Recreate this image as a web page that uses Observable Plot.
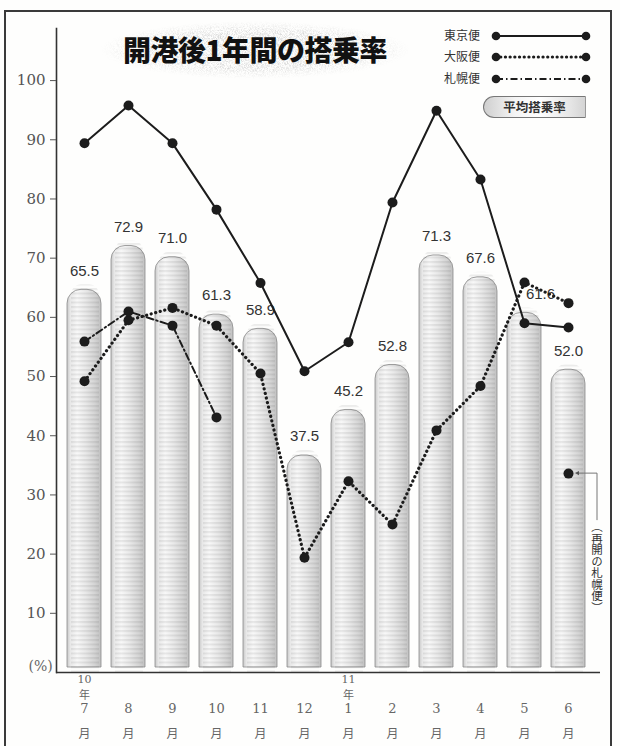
<!DOCTYPE html>
<html>
<head>
<meta charset="utf-8">
<script src="https://cdn.jsdelivr.net/npm/d3@7"></script>
<script src="https://cdn.jsdelivr.net/npm/@observablehq/plot@0.6"></script>
<style>
  html, body { margin: 0; padding: 0; background: #fff; }
  #wrap { position: relative; width: 620px; height: 746px; overflow: hidden; background: #fefefd; }
  #wrap > svg.plot { position: absolute; left: 0; top: 0; }
  .ov { position: absolute; }
  #border { left: 4px; top: 10px; width: 608px; height: 760px; border: 2px solid #3a3a3a; box-sizing: border-box; }
  #title { left: 100px; top: 20px; width: 310px; height: 60px; }
  #titleText { left: 100px; top: 20px; width: 310px; height: 60px; line-height: 58px; text-align: center;
    font-family: "Noto Sans CJK JP"; font-weight: 900; font-size: 28px; color: #111; letter-spacing: -0.5px; }
  .leg { font-family: "Noto Sans CJK JP"; font-size: 12px; color: #333; line-height: 12px; }
  #avgBox { left: 483px; top: 96px; width: 103px; height: 22px; border: 1px solid #777; border-right: 1px solid #999;
    border-radius: 11px 0 0 11px; box-sizing: border-box;
    background: linear-gradient(to right, #cfcfcf 0%, #f4f4f4 30%, #ffffff 55%, #e6e6e6 85%, #d4d4d4 100%);
    font-family: "Noto Sans CJK JP"; font-weight: 700; font-size: 12.5px; color: #333; text-align: center; line-height: 20px; }
  #note { font-family: "Noto Sans CJK JP"; font-size: 11.5px; color: #333; writing-mode: vertical-rl; line-height: 12px; }
</style>
</head>
<body>
<div id="wrap"></div>
<script>
// ---------------- data ----------------
const months = ["7", "8", "9", "10", "11", "12", "1", "2", "3", "4", "5", "6"];
const yearLabels = ["10", "", "", "", "", "", "11", "", "", "", "", ""];
const averageRate = [65.5, 72.9, 71.0, 61.3, 58.9, 37.5, 45.2, 52.8, 71.3, 67.6, 61.6, 52.0];
const tokyoRate = [89.4, 95.8, 89.4, 78.2, 65.8, 50.9, 55.8, 79.4, 94.9, 83.3, 59.0, 58.3];
const osakaRate = [49.2, 59.5, 61.6, 58.6, 50.5, 19.4, 32.3, 25.0, 40.9, 48.4, 65.9, 62.4];
const sapporoRate = [55.9, 61.0, 58.6, 43.1, null, null, null, null, null, null, null, 33.6];
const yTicks = [10, 20, 30, 40, 50, 60, 70, 80, 90, 100];
const seriesNames = ["東京便", "大阪便", "札幌便"];
const titleText = "開港後1年間の搭乗率";
const avgLabel = "平均搭乗率";
const noteText = "（再開の札幌便）";
const shiftedLabelMonth = "5";

const rows = months.map((m, i) => ({
  month: m, year: yearLabels[i], avg: averageRate[i],
  tokyo: tokyoRate[i], osaka: osakaRate[i], sapporo: sapporoRate[i]
}));

// ---------------- styles ----------------
const ink = "#1c1c1c";
const dashOsaka = "0.1,4.6";
const dashSapporo = "7,3,1.5,3";

const chart = Plot.plot({
  width: 620, height: 746,
  marginLeft: 56, marginRight: 20, marginTop: 28, marginBottom: 74,
  x: {domain: months, range: [61, 590], padding: 0, axis: null},
  y: {domain: [0, 108.8], axis: null},
  style: {background: "transparent", fontFamily: "DejaVu Serif", color: "#333", overflow: "visible"},
  marks: [
    // bars (cylinder look)
    Plot.barY(rows, {x: "month", y: "avg", inset: 5, ry1: 14, fill: "url(#cyl)", stroke: "#8a8a8a", strokeWidth: 0.8}),
    Plot.barY(rows, {x: "month", y: "avg", insetLeft: 9, insetRight: 7, ry1: 10, fill: "url(#stripes)"}),
    // value labels
    Plot.text(rows.filter(d => d.month !== shiftedLabelMonth), {x: "month", y: "avg", text: d => d.avg.toFixed(1), dy: -14,
      fontSize: 15, fontFamily: "Liberation Sans", fill: "#333"}),
    Plot.text(rows.filter(d => d.month === shiftedLabelMonth), {x: "month", y: "avg", text: d => d.avg.toFixed(1), dy: -14, dx: 16,
      fontSize: 15, fontFamily: "Liberation Sans", fill: "#333"}),
    // axes
    Plot.frame({anchor: "left", stroke: "#333", strokeWidth: 1.6}),
    Plot.ruleY([0], {stroke: "#333", strokeWidth: 1.6}),
    Plot.axisY(yTicks, {anchor: "left", tickSize: 6, tickPadding: 5, fontSize: 15, fontFamily: "DejaVu Serif",
      color: "#555", label: null}),
    Plot.text(["(%)"], {frameAnchor: "bottom-left", dx: -28, dy: -2, fontSize: 14, fontFamily: "DejaVu Serif", fill: "#666"}),
    // x labels
    Plot.text(rows, {x: "month", text: "year", frameAnchor: "bottom", dy: 10, fontSize: 11, fontFamily: "DejaVu Serif", fill: "#666"}),
    Plot.text(rows.filter(d => d.year), {x: "month", text: () => "年", frameAnchor: "bottom", dy: 26, fontSize: 11, fontFamily: "Noto Sans CJK JP", fill: "#666"}),
    Plot.text(rows, {x: "month", text: "month", frameAnchor: "bottom", dy: 40, fontSize: 13, fontFamily: "DejaVu Serif", fill: "#666"}),
    Plot.text(rows, {x: "month", text: () => "月", frameAnchor: "bottom", dy: 65, fontSize: 12, fontFamily: "Noto Sans CJK JP", fill: "#666"}),
    // lines
    Plot.line(rows, {x: "month", y: "tokyo", stroke: ink, strokeWidth: 2}),
    Plot.line(rows, {x: "month", y: "osaka", stroke: ink, strokeWidth: 3.2, strokeDasharray: dashOsaka, strokeLinecap: "round"}),
    Plot.line(rows, {x: "month", y: "sapporo", stroke: ink, strokeWidth: 2, strokeDasharray: dashSapporo}),
    Plot.dot(rows, {x: "month", y: "tokyo", r: 5, fill: ink}),
    Plot.dot(rows, {x: "month", y: "osaka", r: 5, fill: ink}),
    Plot.dot(rows, {x: "month", y: "sapporo", r: 5, fill: ink})
  ]
});

// defs for bar fill
const ns = "http://www.w3.org/2000/svg";
const defs = d3.create("svg:defs");
const g = defs.append("linearGradient").attr("id", "cyl").attr("x1", 0).attr("x2", 1).attr("y1", 0).attr("y2", 0);
[[0, "#c8c8c8"], [0.1, "#e8e8e8"], [0.3, "#f8f8f8"], [0.55, "#e9e9e9"], [0.82, "#d4d4d4"], [1, "#c0c0c0"]]
  .forEach(([o, c]) => g.append("stop").attr("offset", o).attr("stop-color", c));
const p = defs.append("pattern").attr("id", "stripes").attr("patternUnits", "userSpaceOnUse").attr("width", 8).attr("height", 4.5);
p.append("rect").attr("width", 8).attr("height", 2).attr("fill", "#000").attr("fill-opacity", 0.07);
chart.insertBefore(defs.node(), chart.firstChild);

const wrap = document.getElementById("wrap");
wrap.appendChild(chart);

// ---------------- overlays (title, legend, note) ----------------
function addDiv(id, cls, html) {
  const d = document.createElement("div");
  if (id) d.id = id;
  d.className = "ov " + (cls || "");
  d.innerHTML = html || "";
  wrap.appendChild(d);
  return d;
}
addDiv("border");

// title background (speckled brush band)
const tb = addDiv("title");
tb.innerHTML = `<svg width="310" height="60">
  <defs>
    <filter id="noise" x="0" y="0" width="100%" height="100%">
      <feTurbulence type="fractalNoise" baseFrequency="1.6 0.7" numOctaves="2" seed="4"/>
      <feColorMatrix type="matrix" values="0 0 0 0 0.55  0 0 0 0 0.55  0 0 0 0 0.55  2.2 0 0 0 -0.85"/>
    </filter>
    <radialGradient id="fade" cx="0.5" cy="0.5" r="0.5">
      <stop offset="0" stop-color="#fff" stop-opacity="0.7"/>
      <stop offset="0.6" stop-color="#fff" stop-opacity="0.75"/>
      <stop offset="1" stop-color="#fff" stop-opacity="0"/>
    </radialGradient>
    <mask id="tmask"><ellipse cx="155" cy="30" rx="155" ry="29" fill="url(#fade)"/></mask>
  </defs>
  <rect width="310" height="60" filter="url(#noise)" mask="url(#tmask)"/>
</svg>`;
addDiv("titleText", "", titleText);

// legend
const legY = [36, 57, 79];
const dashes = [null, dashOsaka, dashSapporo];
const widths = [2, 3.2, 2];
const legSvg = document.createElementNS(ns, "svg");
legSvg.setAttribute("width", 620); legSvg.setAttribute("height", 130);
legSvg.style.position = "absolute"; legSvg.style.left = "0"; legSvg.style.top = "0";
seriesNames.forEach((name, i) => {
  const t = addDiv(null, "leg", name);
  t.style.left = "444px"; t.style.top = (legY[i] - 7) + "px";
  const ln = document.createElementNS(ns, "line");
  ln.setAttribute("x1", 496); ln.setAttribute("x2", 586); ln.setAttribute("y1", legY[i]); ln.setAttribute("y2", legY[i]);
  ln.setAttribute("stroke", ink); ln.setAttribute("stroke-width", widths[i]);
  if (dashes[i]) ln.setAttribute("stroke-dasharray", dashes[i]);
  if (i === 1) ln.setAttribute("stroke-linecap", "round");
  legSvg.appendChild(ln);
  [496, 586].forEach(cx => {
    const c = document.createElementNS(ns, "circle");
    c.setAttribute("cx", cx); c.setAttribute("cy", legY[i]); c.setAttribute("r", 4.3); c.setAttribute("fill", ink);
    legSvg.appendChild(c);
  });
});
wrap.appendChild(legSvg);
addDiv("avgBox", "", avgLabel);

// annotation for reopened Sapporo flight
const xs = chart.scale("x"), ys = chart.scale("y");
const lastMonth = months[months.length - 1];
const px = xs.apply(lastMonth) + xs.bandwidth / 2;
const py = ys.apply(sapporoRate[sapporoRate.length - 1]);
const annSvg = document.createElementNS(ns, "svg");
annSvg.setAttribute("width", 620); annSvg.setAttribute("height", 746);
annSvg.style.position = "absolute"; annSvg.style.left = "0"; annSvg.style.top = "0";
annSvg.innerHTML = `<polyline points="${px + 10},${py} ${px + 29},${py} ${px + 29},${py + 47}" fill="none" stroke="#777" stroke-width="1"/>
  <path d="M${px + 7},${py} l4,-2.2 v4.4 z" fill="#555"/>`;
wrap.appendChild(annSvg);
const note = addDiv("note", "", noteText);
note.style.left = (px + 29 - 6) + "px";
note.style.top = (py + 48) + "px";
</script>
</body>
</html>
